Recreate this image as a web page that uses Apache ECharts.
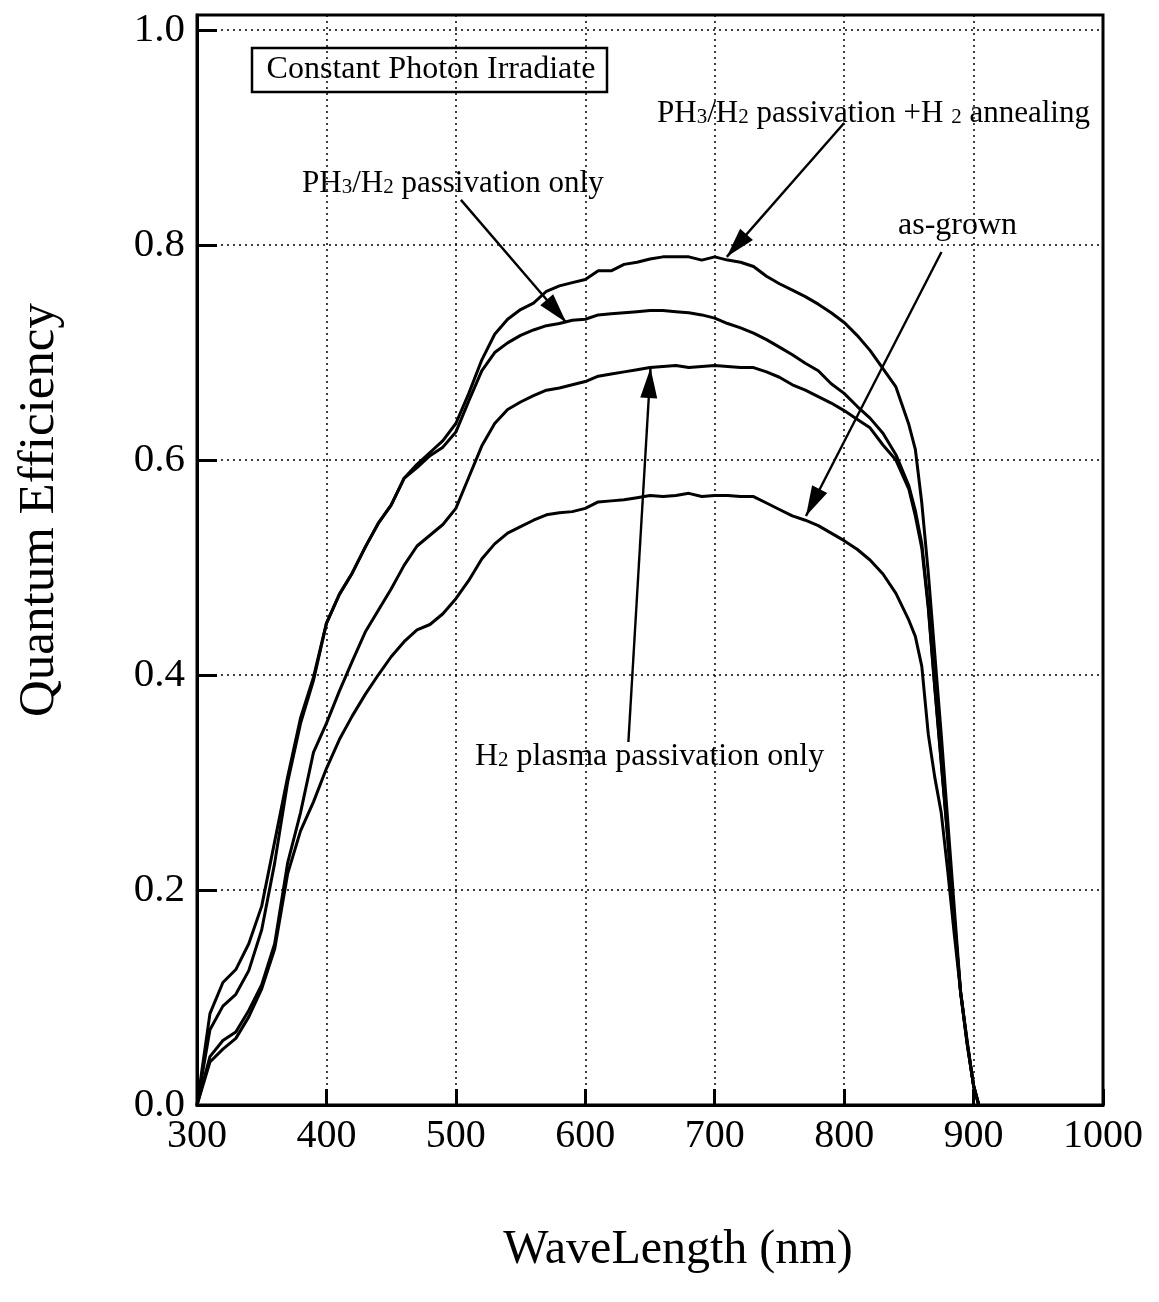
<!DOCTYPE html>
<html>
<head>
<meta charset="utf-8">
<script src="https://cdn.jsdelivr.net/npm/echarts@6/dist/echarts.min.js"></script>
<style>html,body{margin:0;padding:0;background:#fff;}#c{width:1159px;height:1302px;}</style>
</head>
<body>
<div id="c"></div>
<script>
// Wavelength samples (nm)
const wavelength = [300,310,320,330,340,350,360,370,380,390,400,410,420,430,440,450,460,470,480,490,500,510,520,530,540,550,560,570,580,590,600,610,620,630,640,650,660,670,680,690,700,710,720,730,740,750,760,770,780,790,800,810,820,830,840,850,855,860,865,870,875,880,885,890,895,900,904];
// PH3/H2 passivation + H2 annealing
const annealed = [0,0.070,0.092,0.103,0.125,0.163,0.225,0.300,0.355,0.395,0.448,0.475,0.495,0.519,0.541,0.558,0.583,0.596,0.607,0.618,0.634,0.662,0.693,0.717,0.731,0.740,0.746,0.757,0.762,0.765,0.768,0.776,0.776,0.782,0.784,0.787,0.789,0.789,0.789,0.786,0.789,0.786,0.784,0.780,0.771,0.764,0.758,0.752,0.745,0.737,0.728,0.716,0.702,0.685,0.668,0.633,0.610,0.560,0.495,0.420,0.345,0.265,0.185,0.105,0.060,0.018,0];
// PH3/H2 passivation only
const ph3Only = [0,0.085,0.114,0.126,0.150,0.185,0.245,0.305,0.360,0.398,0.448,0.475,0.495,0.519,0.541,0.558,0.583,0.593,0.604,0.612,0.626,0.655,0.683,0.700,0.709,0.716,0.721,0.725,0.727,0.730,0.731,0.735,0.736,0.737,0.738,0.739,0.739,0.738,0.737,0.735,0.732,0.727,0.723,0.718,0.712,0.705,0.698,0.690,0.683,0.671,0.662,0.650,0.639,0.625,0.605,0.576,0.553,0.522,0.465,0.390,0.320,0.250,0.175,0.105,0.058,0.018,0];
// H2 plasma passivation only
const h2Plasma = [0,0.045,0.060,0.068,0.088,0.112,0.150,0.225,0.272,0.328,0.355,0.385,0.413,0.440,0.460,0.480,0.502,0.520,0.530,0.540,0.555,0.584,0.613,0.634,0.647,0.654,0.660,0.665,0.667,0.670,0.673,0.678,0.680,0.682,0.684,0.686,0.687,0.688,0.686,0.687,0.688,0.687,0.686,0.686,0.682,0.677,0.670,0.665,0.659,0.653,0.646,0.638,0.630,0.614,0.600,0.573,0.548,0.518,0.462,0.388,0.318,0.248,0.173,0.104,0.057,0.018,0];
// as-grown
const asGrown = [0,0.040,0.052,0.062,0.082,0.108,0.145,0.215,0.255,0.282,0.313,0.340,0.362,0.382,0.400,0.417,0.431,0.442,0.447,0.457,0.471,0.488,0.508,0.522,0.532,0.538,0.544,0.549,0.551,0.552,0.555,0.561,0.562,0.563,0.565,0.567,0.566,0.567,0.569,0.566,0.567,0.567,0.566,0.566,0.560,0.554,0.548,0.544,0.539,0.532,0.525,0.517,0.507,0.494,0.476,0.451,0.436,0.408,0.345,0.305,0.272,0.218,0.160,0.105,0.058,0.018,0];

// Annotation arrows: [startX, startY, tipX, tipY] in data units
const arrowAnnealed = [800, 0.9135, 709.3, 0.789];
const arrowPh3Only = [503.9, 0.842, 585.3, 0.728];
const arrowAsGrown = [875.2, 0.7935, 770.5, 0.548];
const arrowH2Plasma = [633.3, 0.3377, 650.4, 0.6856];

const xTicks = [300,400,500,600,700,800,900,1000];
const yTicks = [0,0.2,0.4,0.6,0.8,1.0];

const FF = '"Liberation Serif", "Times New Roman", serif';
const chart = echarts.init(document.getElementById('c'));

function pairs(ys){ return wavelength.map((w,i)=>[w, ys[i]]); }
function arrow(a){ return [{coord:[a[0],a[1]]},{coord:[a[2],a[3]]}]; }

const lineStyle = {color:'#000', width:3};
function mkSeries(name, ys){
  return {type:'line', name, data:pairs(ys), showSymbol:false, symbol:'none', lineStyle, silent:true, z:3};
}

const sub = {fontSize:21, fontFamily:FF, fill:'#000', verticalAlign:'bottom', padding:[0,0,2,0]};
function label(x, y, text, size){
  return {type:'text', x, y, z:10, silent:true,
    style:{text, fontSize:size, fontFamily:FF, fill:'#000', textAlign:'left', textVerticalAlign:'middle',
      rich:{s:sub, n:{fontSize:size, fontFamily:FF, fill:'#000'}}}};
}

const option = {
  animation:false,
  backgroundColor:'#fff',
  grid:{left:197, top:15, width:906, height:1090, show:true, borderColor:'#000', borderWidth:3, backgroundColor:'transparent'},
  xAxis:{
    type:'value', min:300, max:1000, interval:100,
    axisLine:{show:true, lineStyle:{color:'#000', width:3}},
    axisTick:{show:true, inside:true, length:16, lineStyle:{color:'#000', width:3}},
    axisLabel:{color:'#000', fontFamily:FF, fontSize:40, margin:11,
      formatter:v=> xTicks.includes(v) ? String(v) : ''},
    splitLine:{show:true, lineStyle:{color:'#000', width:1.5, type:[2,4]}}
  },
  yAxis:{
    type:'value', min:0, max:1.014, interval:0.2,
    axisLine:{show:true, lineStyle:{color:'#000', width:3}},
    axisTick:{show:true, inside:true, length:20, lineStyle:{color:'#000', width:3}},
    axisLabel:{color:'#000', fontFamily:FF, fontSize:41, margin:12, showMaxLabel:false,
      formatter:v=> yTicks.some(t=>Math.abs(t-v)<1e-6) ? v.toFixed(1) : ''},
    splitLine:{show:true, lineStyle:{color:'#000', width:1.5, type:[2,4]}}
  },
  series:[
    mkSeries('PH3/H2 passivation +H2 annealing', annealed),
    mkSeries('PH3/H2 passivation only', ph3Only),
    mkSeries('H2 plasma passivation only', h2Plasma),
    Object.assign(mkSeries('as-grown', asGrown), {
      markLine:{silent:true, animation:false, symbol:['none','triangle'], symbolSize:[17,30],
        symbolOffset:[[0,0],[0,15]],
        label:{show:false}, lineStyle:{color:'#000', width:2.4, type:'solid'},
        emphasis:{disabled:true},
        data:[arrow(arrowAnnealed), arrow(arrowPh3Only), arrow(arrowAsGrown), arrow(arrowH2Plasma)]}
    })
  ],
  graphic:[
    {type:'rect', shape:{x:252, y:48, width:355, height:44}, style:{fill:'none', stroke:'#000', lineWidth:2.5}, z:10, silent:true},
    {type:'text', x:431, y:70, z:10, silent:true, style:{text:'Constant Photon Irradiate', fontSize:32, fontFamily:FF, fill:'#000', textAlign:'center', textVerticalAlign:'middle'}},
    label(657, 114, 'PH{s|3}/H{s|2} passivation +H {s|2} annealing', 31),
    label(302, 184, 'PH{s|3}/H{s|2} passivation only', 31),
    label(898, 226, 'as-grown', 32),
    label(475, 757, 'H{s|2} plasma passivation only', 32),
    {type:'text', x:40, y:510, rotation:Math.PI/2, z:10, silent:true, style:{text:'Quantum Efficiency', fontSize:51, fontFamily:FF, fill:'#000', textAlign:'center', textVerticalAlign:'middle'}},
    {type:'text', x:678, y:1250, z:10, silent:true, style:{text:'WaveLength (nm)', fontSize:48, fontFamily:FF, fill:'#000', textAlign:'center', textVerticalAlign:'middle'}}
  ]
};
chart.setOption(option);
</script>
</body>
</html>
